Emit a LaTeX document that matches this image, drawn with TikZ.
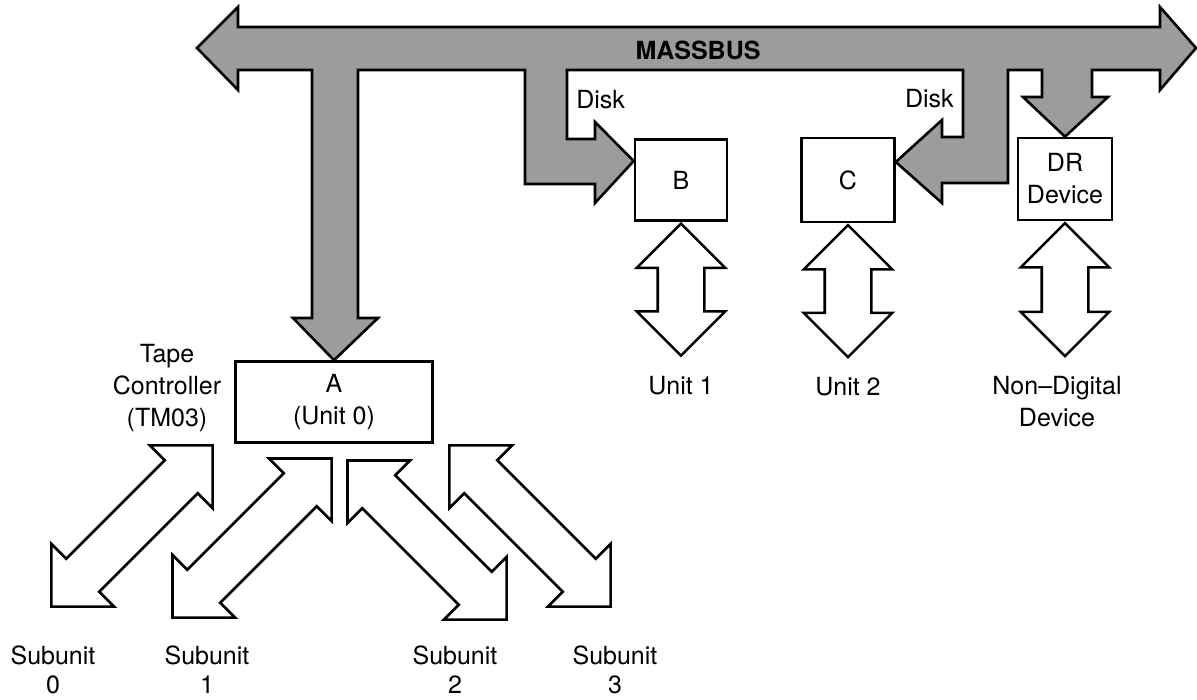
\documentclass[tikz,border=0pt]{standalone}
\usepackage{fontspec}
\setmainfont{TeX Gyre Heros}
\usepackage{xcolor}
\usepackage{tikz}
\usetikzlibrary{positioning, shapes.arrows}
\definecolor{busgray}{HTML}{9C9C9C}

\begin{document}
\begin{tikzpicture}[x=1pt, y=-1pt, line width=2.6pt,
    font=\fontsize{25}{32}\selectfont,
    devbox/.style={draw, inner sep=0pt, align=center},
    linkarrow/.style={double arrow, draw, fill=white, inner xsep=0pt, inner ysep=22pt,
      double arrow head extend=21pt, minimum width=86pt},
    lbl/.style={align=center, inner sep=0pt}]
  \useasboundingbox (0,0) rectangle (1197,700);

  % devices
  \node[devbox, minimum width=197pt, minimum height=81pt] (A) at (334,402) {A\\(Unit 0)};
  \node[devbox, minimum width=92pt, minimum height=81pt] (B) at (681,180) {B};
  \node[devbox, minimum width=93pt, minimum height=84pt] (C) at (848,180) {C};
  \node[devbox, minimum width=94pt, minimum height=82pt] (DR) at (1065,179) {DR\\Device};

  % the bus with its branches
  \draw[fill=busgray] (197,48) -- (238,7) -- (238,27) -- (1160,27) -- (1160,7) -- (1196,48)
    -- (1160,90) -- (1160,70) -- (1092,70) -- (1092,97) -- (1108,97) -- (DR.north)
    -- (1023,97) -- (1042,97) -- (1042,70) -- (1008,70) -- (1008,183) -- (942,183)
    -- (942,203) -- ([yshift=18pt]C.east) -- (942,120) -- (942,137) -- (963,137)
    -- (963,70) -- (567,70) -- (567,139) -- (595,139) -- (595,122)
    -- ([yshift=19pt]B.west) -- (595,203) -- (595,184) -- (525,184) -- (525,70)
    -- (358,70) -- (358,318) -- (378,318) -- (A.north) -- (293,318) -- (312,318)
    -- (312,70) -- (238,70) -- (238,90) -- cycle;
  \node[lbl, font=\fontsize{25}{32}\selectfont\bfseries] (massbus) at (698,50) {MASSBUS};
  \node[lbl, anchor=west] (diskB) at (575,100) {Disk};
  \node[lbl, anchor=east] (diskC) at (955,99) {Disk};

  % units below B, C and DR
  \node[linkarrow, minimum height=132pt, rotate=-90, anchor=west] (linkB) at (B.south) {};
  \node[linkarrow, minimum height=132pt, rotate=-90, anchor=west] (linkC) at (C.south) {};
  \node[linkarrow, minimum height=133pt, rotate=-90, anchor=west] (linkDR) at (DR.south) {};
  \node[lbl, below=17pt of linkB.east] (unit1) {Unit 1};
  \node[lbl, below=17pt of linkC.east] (unit2) {Unit 2};
  \node[lbl, below=17pt of linkDR.east, xshift=-8pt] (nondig) {Non–Digital\\Device};

  % tape subunits
  \node[lbl] (tape) at (167,388) {Tape\\Controller\\(TM03)};
  \node[linkarrow, minimum height=228pt, rotate=45] (sub0) at (132,526) {};
  \node[linkarrow, minimum height=225pt, rotate=45] (sub1) at (252,538) {};
  \node[linkarrow, minimum height=225pt, rotate=-45] (sub2) at (427,540) {};
  \node[linkarrow, minimum height=228pt, rotate=-45] (sub3) at (530,526) {};
  \node[lbl, font=\fontsize{25}{29}\selectfont] (lblsub0) at (53,670) {Subunit\\0};
  \node[lbl, font=\fontsize{25}{29}\selectfont] (lblsub1) at (207,670) {Subunit\\1};
  \node[lbl, font=\fontsize{25}{29}\selectfont] (lblsub2) at (455,670) {Subunit\\2};
  \node[lbl, font=\fontsize{25}{29}\selectfont] (lblsub3) at (615,670) {Subunit\\3};
\end{tikzpicture}
\end{document}
